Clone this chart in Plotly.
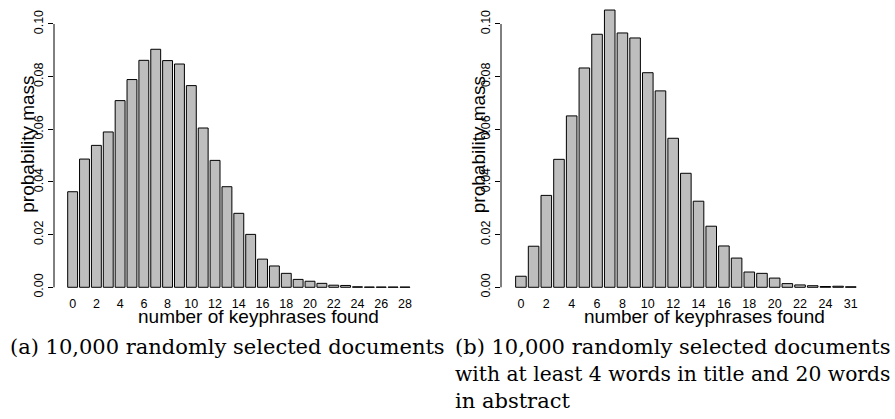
import plotly.graph_objects as go

# ---------------- data ----------------
left_categories = ["0", "1", "2", "3", "4", "5", "6", "7", "8", "9", "10", "11", "12", "13",
                   "14", "15", "16", "17", "18", "19", "20", "21", "22", "23", "24", "25",
                   "26", "27", "28"]
left_values = [0.0363, 0.0487, 0.0539, 0.0590, 0.0709, 0.0789, 0.0862, 0.0904, 0.0861,
               0.0848, 0.0766, 0.0605, 0.0482, 0.0382, 0.0281, 0.0201, 0.0107, 0.0081,
               0.0053, 0.0030, 0.0023, 0.0015, 0.0008, 0.0007, 0.0002, 0.0001, 0.0001,
               0.0001, 0.0001]

right_categories = ["0", "1", "2", "3", "4", "5", "6", "7", "8", "9", "10", "11", "12", "13",
                    "14", "15", "16", "17", "18", "19", "20", "21", "22", "23", "24", "25",
                    "31"]
right_values = [0.0042, 0.0156, 0.0349, 0.0486, 0.0651, 0.0833, 0.0961, 0.1053, 0.0966,
                0.0947, 0.0815, 0.0746, 0.0566, 0.0433, 0.0327, 0.0232, 0.0157, 0.0111,
                0.0058, 0.0053, 0.0035, 0.0014, 0.0009, 0.0006, 0.0003, 0.0004, 0.0002]

y_tick_values = [0.00, 0.02, 0.04, 0.06, 0.08, 0.10]
y_tick_labels = ["0.00", "0.02", "0.04", "0.06", "0.08", "0.10"]

x_title = "number of keyphrases found"
y_title = "probability mass"
caption_a = "(a) 10,000 randomly selected documents"
caption_b_lines = ["(b) 10,000 randomly selected documents",
                   "with at least 4 words in title and 20 words",
                   "in abstract"]

# ---------------- layout helpers ----------------
W, H = 895, 419


def px_x(p):
    return p / W


def px_y(p):
    return 1 - p / H


SANS = "Liberation Sans, Arial, Helvetica, sans-serif"
SERIF = "DejaVu Serif, serif"
BAR_FILL = "#BEBEBE"

fig = go.Figure()

fig.add_trace(go.Bar(x=left_categories, y=left_values, width=1 / 1.2,
                     marker=dict(color=BAR_FILL, line=dict(color="black", width=1)),
                     xaxis="x", yaxis="y", showlegend=False, hoverinfo="skip"))
fig.add_trace(go.Bar(x=right_categories, y=right_values, width=1 / 1.2,
                     marker=dict(color=BAR_FILL, line=dict(color="black", width=1)),
                     xaxis="x2", yaxis="y2", showlegend=False, hoverinfo="skip"))

# y scale: value 0 at pixel 287.3, 0.10 at pixel 24 -> 2633 px per unit
Y0_PX, PX_PER_UNIT = 287.3, 2633.0
Y_LO, Y_HI = -0.004, 0.1065
ydom = [px_y(Y0_PX - Y_LO * PX_PER_UNIT), px_y(Y0_PX - Y_HI * PX_PER_UNIT)]
n_left = len(left_categories)
n_right = len(right_categories)

xaxis_common = dict(type="category", showgrid=False, zeroline=False, showline=False,
                    ticks="", tickfont=dict(family=SANS, size=12.5, color="black"),
                    tickangle=0, tickmode="array", ticklabelstandoff=-3)
yaxis_common = dict(range=[Y_LO, Y_HI], showgrid=False, zeroline=False, showline=False,
                    ticks="outside", ticklen=5, tickcolor="black", tickwidth=1,
                    tickmode="array", tickvals=y_tick_values, ticktext=y_tick_labels,
                    tickangle=-90, tickfont=dict(family=SANS, size=12.5, color="black"),
                    domain=ydom)

fig.update_layout(
    width=W, height=H,
    margin=dict(l=0, r=0, t=0, b=0),
    paper_bgcolor="white", plot_bgcolor="white",
    bargap=0,
    xaxis=dict(domain=[px_x(54), px_x(423.6)], range=[-1.57, n_left - 1 + 1.57],
               tickvals=left_categories[::2], ticktext=left_categories[::2],
               anchor="y", **xaxis_common),
    yaxis=dict(anchor="x", **yaxis_common),
    xaxis2=dict(domain=[px_x(501), px_x(870.7)], range=[-1.57, n_right - 1 + 1.57],
                tickvals=right_categories[::2], ticktext=right_categories[::2],
                anchor="y2", **xaxis_common),
    yaxis2=dict(anchor="x2", **yaxis_common),
)

# y axis lines (only from 0 to 0.10, like R)
for xr, yr in [("x domain", "y"), ("x2 domain", "y2")]:
    fig.add_shape(type="line", xref=xr, yref=yr, x0=0, x1=0, y0=0, y1=0.10,
                  line=dict(color="black", width=1))

annotations = []
# axis titles
for cx in (258, 704.7):
    annotations.append(dict(text=x_title, x=px_x(cx), y=px_y(316.7), xref="paper", yref="paper",
                            xanchor="center", yanchor="middle", showarrow=False,
                            font=dict(family=SANS, size=19, color="black")))
for cx in (28, 478.5):
    annotations.append(dict(text=y_title, x=px_x(cx), y=px_y(144.7), xref="paper", yref="paper",
                            xanchor="center", yanchor="middle", showarrow=False, textangle=-90,
                            font=dict(family=SANS, size=19, color="black")))
# captions
annotations.append(dict(text=caption_a, x=px_x(8), y=px_y(347), xref="paper", yref="paper",
                        xanchor="left", yanchor="middle", showarrow=False,
                        font=dict(family=SERIF, size=21, color="black")))
caption_b_sizes = [21, 20.3, 21]
for i, line in enumerate(caption_b_lines):
    annotations.append(dict(text=line, x=px_x(452.5), y=px_y(347 + 27 * i),
                            xref="paper", yref="paper", xanchor="left", yanchor="middle",
                            showarrow=False,
                            font=dict(family=SERIF, size=caption_b_sizes[i], color="black")))
fig.update_layout(annotations=annotations)

fig.write_html("out.html",
               config={"displayModeBar": False, "staticPlot": True},
               post_script="document.body.style.margin='0';"
                           "document.body.style.overflow='hidden';")
